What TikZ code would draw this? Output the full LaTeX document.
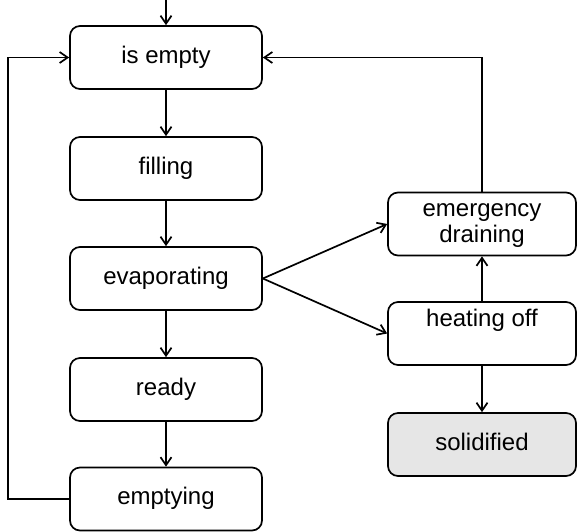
\documentclass[tikz,border=0pt]{standalone}
\usepackage{fontspec}
\setmainfont{Liberation Sans}
\usetikzlibrary{arrows.meta}
\definecolor{stategray}{RGB}{230,230,230}
% centred lines of state text, each with the same fixed line box
\newcommand\statetext[1]{\vbox{\baselineskip=25.5pt\lineskiplimit=-50pt
  \halign{\hfil\vrule height17.5pt depth6.1pt width0pt##\hfil\cr#1\crcr}}}
\tikzset{
  state/.style={draw=black, line width=1.7pt, rounded corners=10pt, fill=white,
    minimum width=#1, minimum height=63pt, inner sep=0pt,
    font=\fontsize{24}{25.5}\selectfont},
  state/.default=192pt,
  flow/.style={line width=1.7pt, -{Straight Barb[length=8pt,width=11pt,line width=1.7pt]}},
}
\begin{document}
\begin{tikzpicture}[x=1pt,y=-1pt]
  \useasboundingbox (0,0) rectangle (577,531);

  % main cycle
  \node[state] (empty) at (166,57.5)  {\statetext{is empty}};
  \node[state] (fill)  at (166,168.5) {\statetext{filling}};
  \node[state] (evap)  at (166,278.5) {\statetext{evaporating}};
  \node[state] (ready) at (166,389.5) {\statetext{ready}};
  \node[state] (drain) at (166,499)   {\statetext{emptying}};

  % fault branch
  \node[state=188pt] (emerg) at (482,224)   {\statetext{emergency\cr draining}};
  \node[state=188pt] (heat)  at (482,333.5) {\statetext{heating off\cr{}}};
  \node[state=188pt, fill=stategray] (solid) at (482,444.5) {\statetext{solidified}};

  \coordinate (start) at (166,0);
  \draw[flow] (start) -- (empty);
  \draw[flow] (empty) -- (fill);
  \draw[flow] (fill) -- (evap);
  \draw[flow] (evap) -- (ready);
  \draw[flow] (ready) -- (drain);

  \draw[flow] (drain.west) -- ++(-61.5,0) |- (empty.west);

  \draw[flow] (evap.east) -- (emerg.west);
  \draw[flow] (evap.east) -- (heat.west);
  \draw[flow] (heat) -- (emerg);
  \draw[flow] (heat) -- (solid);
  \draw[flow] (emerg.north) |- (empty.east);
\end{tikzpicture}
\end{document}
